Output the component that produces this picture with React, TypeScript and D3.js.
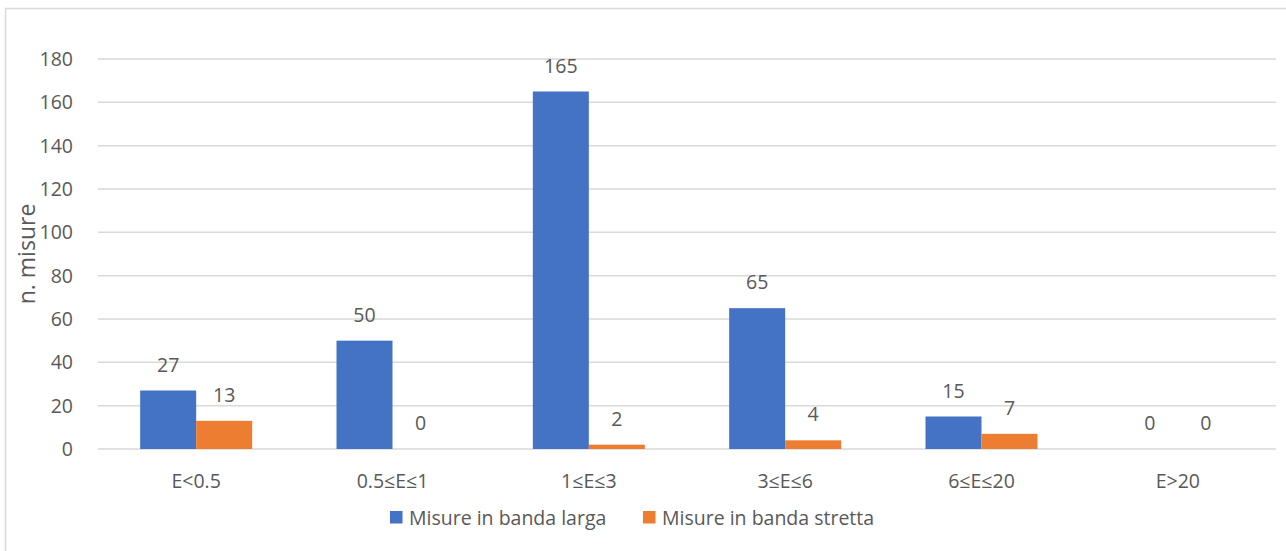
import React from "react";
import * as d3 from "d3";

const categories = ["E<0.5", "0.5≤E≤1", "1≤E≤3", "3≤E≤6", "6≤E≤20", "E>20"];
const seriesNames = ["Misure in banda larga", "Misure in banda stretta"];
const bandaLarga = [27, 50, 165, 65, 15, 0];
const bandaStretta = [13, 0, 2, 4, 7, 0];
const yTicks = [0, 20, 40, 60, 80, 100, 120, 140, 160, 180];
const colors = ["#4472C4", "#ED7D31"];
const yTitle = "n. misure";

const W = 1286;
const H = 551;
const FONT = "'Open Sans', 'Noto Sans', sans-serif";
const TXT = "#595959";
const FS = 19.5;

export default function App() {
  const left = 98, right = 1276, top = 59, bottom = 449;
  const x = d3.scaleBand<string>().domain(categories).range([left, right]).paddingInner(0).paddingOuter(0);
  const y = d3.scaleLinear().domain([0, 180]).range([bottom, top]);
  const barW = x.bandwidth() * (56 / 196.33);
  const inner = d3.scaleBand<number>().domain([0, 1]).range([-barW, barW]).padding(0);
  const series = [bandaLarga, bandaStretta];

  return (
    <svg width={W} height={H} style={{ position: "absolute", left: 0, top: 0, display: "block" }} fontFamily={FONT}>
      <rect x={0} y={0} width={W} height={H} fill="#fff" />
      <rect x={5.5} y={8.5} width={W + 20} height={H + 20} fill="none" stroke="#d9d9d9" strokeWidth={1.5} />
      {yTicks.map((t) => (
        <g key={t}>
          <line x1={left} x2={right} y1={y(t)} y2={y(t)} stroke="#d9d9d9" strokeWidth={1.5} />
          <text x={73} y={y(t)} dy="0.36em" textAnchor="end" fontSize={FS} fill={TXT}>{t}</text>
        </g>
      ))}
      <text transform={`translate(35,${(top + bottom) / 2}) rotate(-90)`} textAnchor="middle" fontSize={23} fill={TXT}>{yTitle}</text>
      {categories.map((c, i) => {
        const cx = (x(c) as number) + x.bandwidth() / 2;
        return (
          <g key={c}>
            {series.map((s, k) => {
              const bx = cx + (inner(k) as number);
              const v = s[i];
              return (
                <g key={k}>
                  <rect x={bx} y={y(v)} width={inner.bandwidth()} height={y(0) - y(v)} fill={colors[k]} />
                  <text x={bx + inner.bandwidth() / 2} y={y(v) - 19} textAnchor="middle" fontSize={FS} fill={TXT}>{v}</text>
                </g>
              );
            })}
            <text x={cx} y={481} dy="0.36em" textAnchor="middle" fontSize={FS} fill={TXT}>{c}</text>
          </g>
        );
      })}
      {seriesNames.map((n, k) => {
        const lx = k === 0 ? 390 : 643;
        return (
          <g key={n}>
            <rect x={lx} y={511} width={12.5} height={12.5} fill={colors[k]} />
            <text x={lx + 19} y={518} dy="0.36em" fontSize={FS} fill={TXT}>{n}</text>
          </g>
        );
      })}
    </svg>
  );
}
